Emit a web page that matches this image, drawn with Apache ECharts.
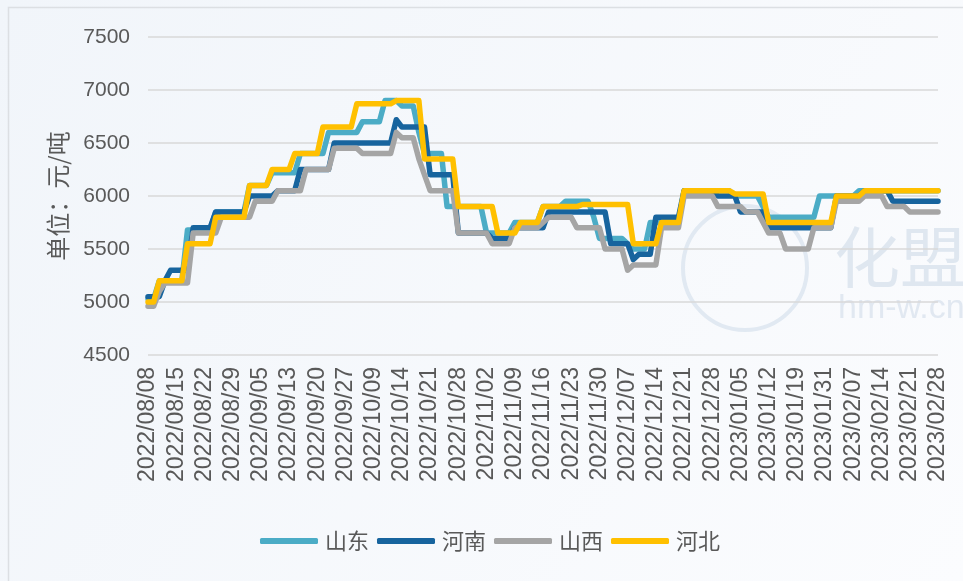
<!DOCTYPE html>
<html><head><meta charset="utf-8">
<script src="https://cdn.jsdelivr.net/npm/echarts@6/dist/echarts.min.js"></script>
<style>html,body{margin:0;padding:0;background:#fff}#c{width:963px;height:581px}</style>
</head><body><div id="c"></div>
<script>
const categories = [
'2022/08/08','2022/08/09','2022/08/10','2022/08/11','2022/08/12',
'2022/08/15','2022/08/16','2022/08/17','2022/08/18','2022/08/19',
'2022/08/22','2022/08/23','2022/08/24','2022/08/25','2022/08/26',
'2022/08/29','2022/08/30','2022/08/31','2022/09/01','2022/09/02',
'2022/09/05','2022/09/06','2022/09/07','2022/09/08','2022/09/09',
'2022/09/13','2022/09/14','2022/09/15','2022/09/16','2022/09/19',
'2022/09/20','2022/09/21','2022/09/22','2022/09/23','2022/09/26',
'2022/09/27','2022/09/28','2022/09/29','2022/09/30','2022/10/08',
'2022/10/09','2022/10/10','2022/10/11','2022/10/12','2022/10/13',
'2022/10/14','2022/10/17','2022/10/18','2022/10/19','2022/10/20',
'2022/10/21','2022/10/24','2022/10/25','2022/10/26','2022/10/27',
'2022/10/28','2022/10/29','2022/10/30','2022/10/31','2022/11/01',
'2022/11/02','2022/11/03','2022/11/04','2022/11/07','2022/11/08',
'2022/11/09','2022/11/10','2022/11/11','2022/11/14','2022/11/15',
'2022/11/16','2022/11/17','2022/11/18','2022/11/21','2022/11/22',
'2022/11/23','2022/11/24','2022/11/25','2022/11/28','2022/11/29',
'2022/11/30','2022/12/01','2022/12/02','2022/12/05','2022/12/06',
'2022/12/07','2022/12/08','2022/12/09','2022/12/12','2022/12/13',
'2022/12/14','2022/12/15','2022/12/16','2022/12/19','2022/12/20',
'2022/12/21','2022/12/22','2022/12/23','2022/12/26','2022/12/27',
'2022/12/28','2022/12/29','2022/12/30','2023/01/03','2023/01/04',
'2023/01/05','2023/01/06','2023/01/09','2023/01/10','2023/01/11',
'2023/01/12','2023/01/13','2023/01/16','2023/01/17','2023/01/18',
'2023/01/19','2023/01/20','2023/01/28','2023/01/29','2023/01/30',
'2023/01/31','2023/02/01','2023/02/02','2023/02/03','2023/02/06',
'2023/02/07','2023/02/08','2023/02/09','2023/02/10','2023/02/13',
'2023/02/14','2023/02/15','2023/02/16','2023/02/17','2023/02/20',
'2023/02/21','2023/02/22','2023/02/23','2023/02/24','2023/02/27',
'2023/02/28'];

const shandong = [
5030,5030,5200,5200,5200, 5200,5200,5680,5680,5680,
5680,5680,5850,5850,5850, 5850,5850,5850,6100,6100,
6100,6100,6220,6220,6220, 6220,6220,6400,6400,6400,
6400,6400,6600,6600,6600, 6600,6600,6600,6700,6700,
6700,6700,6900,6900,6900, 6850,6850,6850,6600,6400,
6400,6400,6400,5900,5900, 5900,5900,5900,5900,5900,
5650,5650,5650,5650,5650, 5750,5750,5750,5750,5750,
5900,5900,5900,5900,5950, 5950,5950,5950,5950,5800,
5600,5600,5600,5600,5600, 5550,5500,5500,5500,5750,
5750,5750,5750,5750,5750, 6050,6050,6050,6050,6050,
6050,6050,6050,6050,6000, 6000,6000,6000,6000,5900,
5800,5800,5800,5800,5800, 5800,5800,5800,5800,6000,
6000,6000,6000,6000,6000, 6000,6050,6050,6050,6050,
6050,6050,6050,6050,6050, 6050,6050,6050,6050,6050,
6050];

const henan = [
5050,5050,5050,5200,5300, 5300,5300,5300,5700,5700,
5700,5700,5850,5850,5850, 5850,5850,5850,6000,6000,
6000,6000,6000,6050,6050, 6050,6050,6250,6250,6250,
6250,6250,6250,6500,6500, 6500,6500,6500,6500,6500,
6500,6500,6500,6500,6720, 6650,6650,6650,6650,6650,
6200,6200,6200,6200,6200, 5650,5650,5650,5650,5650,
5650,5600,5600,5600,5600, 5700,5700,5700,5700,5700,
5700,5850,5850,5850,5850, 5850,5850,5850,5850,5850,
5850,5850,5550,5550,5550, 5550,5400,5450,5450,5450,
5800,5800,5800,5800,5800, 6050,6050,6050,6050,6050,
6050,6000,6000,6000,6000, 5850,5850,5850,5850,5850,
5700,5700,5700,5700,5700, 5700,5700,5700,5700,5700,
5700,5700,6000,6000,6000, 6000,6000,6050,6050,6050,
6050,6050,5950,5950,5950, 5950,5950,5950,5950,5950,
5950];

const shanxi = [
4960,4960,5100,5180,5180, 5180,5180,5180,5650,5650,
5650,5650,5650,5800,5800, 5800,5800,5800,5800,5950,
5950,5950,5950,6050,6050, 6050,6050,6050,6250,6250,
6250,6250,6250,6450,6450, 6450,6450,6450,6400,6400,
6400,6400,6400,6400,6600, 6550,6550,6550,6350,6200,
6050,6050,6050,6050,6050, 5650,5650,5650,5650,5650,
5650,5550,5550,5550,5550, 5700,5700,5700,5700,5700,
5750,5800,5800,5800,5800, 5800,5700,5700,5700,5700,
5700,5500,5500,5500,5500, 5300,5350,5350,5350,5350,
5350,5700,5700,5700,5700, 6000,6000,6000,6000,6000,
6000,5900,5900,5900,5900, 5900,5850,5850,5850,5750,
5650,5650,5650,5500,5500, 5500,5500,5500,5700,5700,
5700,5700,5950,5950,5950, 5950,5950,6000,6000,6000,
6000,5900,5900,5900,5900, 5850,5850,5850,5850,5850,
5850];

const hebei = [
5000,5000,5200,5200,5200, 5200,5200,5550,5550,5550,
5550,5550,5800,5800,5800, 5800,5800,5800,6100,6100,
6100,6100,6250,6250,6250, 6250,6400,6400,6400,6400,
6400,6650,6650,6650,6650, 6650,6650,6870,6870,6870,
6870,6870,6870,6870,6900, 6900,6900,6900,6900,6350,
6350,6350,6350,6350,6350, 5900,5900,5900,5900,5900,
5900,5900,5650,5650,5650, 5650,5750,5750,5750,5750,
5900,5900,5900,5900,5900, 5900,5900,5920,5920,5920,
5920,5920,5920,5920,5920, 5920,5550,5550,5550,5550,
5550,5750,5750,5750,5750, 6050,6050,6050,6050,6050,
6050,6050,6050,6050,6020, 6020,6020,6020,6020,6020,
5750,5750,5750,5750,5750, 5750,5750,5750,5750,5750,
5750,5750,6000,6000,6000, 6000,6000,6050,6050,6050,
6050,6050,6050,6050,6050, 6050,6050,6050,6050,6050,
6050];

const seriesNames = ['山东','河南','山西','河北'];
const seriesData = [shandong, henan, shanxi, hebei];
const colors = ['#4bacc6','#17649e','#a5a5a5','#ffc000'];
const yTicks = {min:4500, max:7500, interval:500};

const chart = echarts.init(document.getElementById('c'), null, {renderer:'canvas'});
const latin = '"Liberation Sans", Arial, "Noto Sans CJK SC", sans-serif';
const cjk = '"Noto Sans CJK SC", "Liberation Sans", sans-serif';

chart.setOption({
  backgroundColor: {type:'linear', x:0, y:0, x2:1, y2:1,
    colorStops:[{offset:0,color:'#f1f5fa'},{offset:1,color:'#fbfcfe'}]},
  animation:false,
  color: colors,
  graphic: [
    {type:'rect', z:-10, silent:true, shape:{x:8.5,y:7.5,width:1000,height:700},
     style:{fill:'none', stroke:'#dcdfe3', lineWidth:1.5}},
    {type:'circle', z:-10, silent:true, shape:{cx:745,cy:268,r:62},
     style:{fill:'none', stroke:'#e1e9f2', lineWidth:4}},
    {type:'text', z:-10, silent:true, left:834, top:224,
     style:{text:'化盟', fontSize:66, fill:'#dfe7f0', fontFamily:cjk}},
    {type:'text', z:-10, silent:true, left:838, top:292,
     style:{text:'hm-w.cn', fontSize:34, fill:'#e1e8f1', fontFamily:latin}}
  ],
  grid: {left:148, right:25, top:37, bottom:226, containLabel:false},
  legend: {
    data: seriesNames, bottom: 24, left: 255, icon:'roundRect',
    itemWidth:58, itemHeight:6, itemGap:8,
    textStyle:{fontSize:22, color:'#595959', fontFamily:cjk, padding:[0,0,0,2]}
  },
  xAxis: {
    type:'category', data:categories, boundaryGap:false,
    axisLine:{show:false}, axisTick:{show:false},
    axisLabel:{interval:4, rotate:90, fontSize:23, color:'#595959', margin:12, fontFamily:latin}
  },
  yAxis: {
    type:'value', min:yTicks.min, max:yTicks.max, interval:yTicks.interval,
    name:'单位：元/吨', nameLocation:'middle', nameGap:78,
    nameTextStyle:{fontSize:24, color:'#595959', fontFamily:cjk},
    axisLine:{show:false}, axisTick:{show:false},
    axisLabel:{fontSize:21, color:'#595959', margin:18, fontFamily:latin,
      formatter: v => String(v)},
    splitLine:{lineStyle:{color:'#d9d9d9', width:1.5}}
  },
  series: seriesNames.map((n,i)=>({
    name:n, type:'line', data:seriesData[i], symbol:'none', showSymbol:false,
    lineStyle:{width:5.5, color:colors[i], join:'round', cap:'round'},
    itemStyle:{color:colors[i]}
  }))
});
</script></body></html>
